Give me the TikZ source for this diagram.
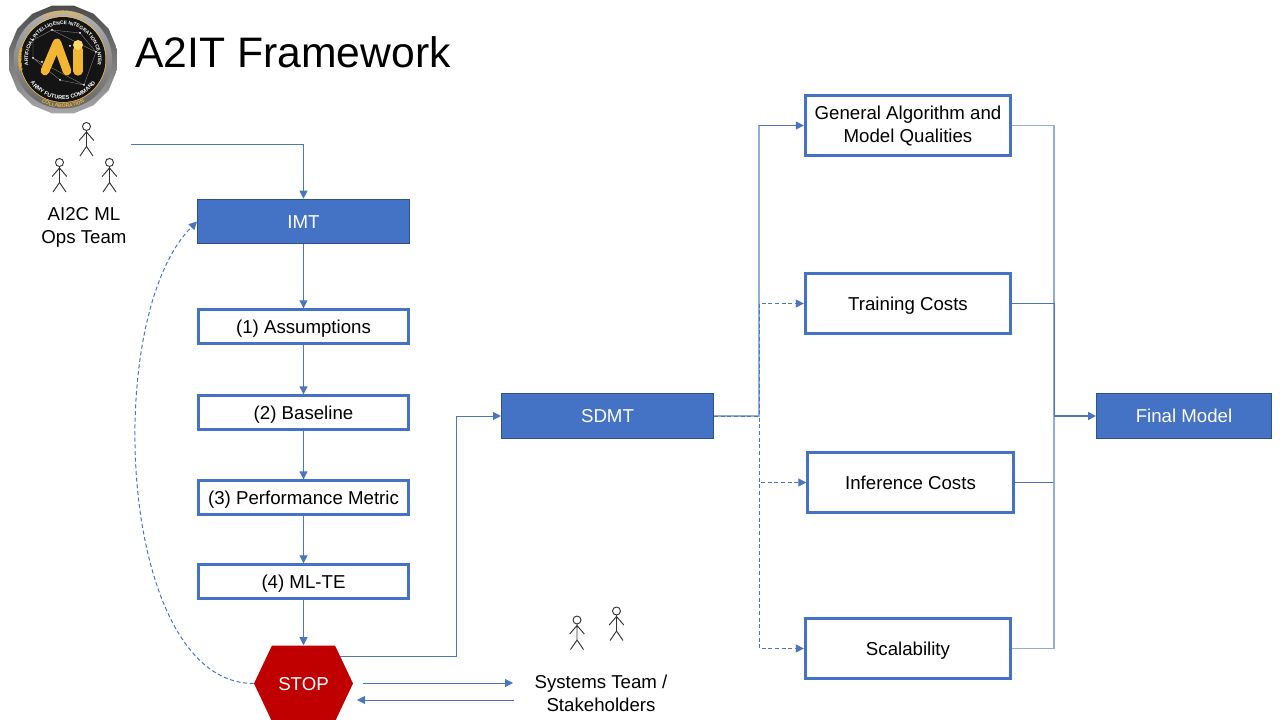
\documentclass[tikz,border=0pt]{standalone}
\usepackage{fontspec}
\setmainfont{Liberation Sans}
\usetikzlibrary{arrows.meta,decorations.text,calc}
\definecolor{boxblue}{HTML}{4472C4}
\definecolor{boxedge}{HTML}{2F528F}
\definecolor{stopred}{HTML}{C00000}
\definecolor{linkblue}{HTML}{4A76BE}
\definecolor{gold}{HTML}{F2B632}
\definecolor{palegold}{HTML}{FFD766}
\tikzset{
  stickman/.pic = {
    \draw[black!80, line width=0.7pt] (0,0) circle (4);
    \draw[black!80, line width=0.7pt] (0,4) -- (0,20) (-7.3,14) -- (0,5.5) -- (7.3,14) (-6.5,29.5) -- (0,20) -- (6.5,29.5);
  }
}
\begin{document}
\begin{tikzpicture}[x=0.75pt, y=-0.75pt, node distance={20mm}, font=\fontsize{14}{17.25}\selectfont, >={Triangle[length=6pt,width=6pt]},
    oneline/.style = {text height=10pt, text depth=0pt},
    solidbox/.style = {oneline, draw=boxedge, line width=0.75pt, fill=boxblue, text=white, minimum width=159pt, minimum height=33.5pt},
    stepbox/.style = {oneline, draw=boxblue, line width=2.25pt, minimum width=158pt, minimum height=25pt},
    costbox/.style = {draw=boxblue, line width=2.25pt, minimum width=154pt, minimum height=45pt, align=center},
    stopsign/.style = {oneline, text=white, minimum width=74.25pt, minimum height=57pt, inner sep=0pt,
      path picture={\fill[stopred] (path picture bounding box.west) -- ([xshift=13.5pt]path picture bounding box.north west) -- ([xshift=-13.5pt]path picture bounding box.north east) -- (path picture bounding box.east) -- ([xshift=-13.5pt]path picture bounding box.south east) -- ([xshift=13.5pt]path picture bounding box.south west) -- cycle;}},
    link/.style = {draw=linkblue, line width=0.75pt},
    dashlink/.style = {link, dash pattern=on 3pt off 2pt},
    lightlink/.style = {draw=linkblue!60, line width=1pt},
    label/.style = {align=center},
    ringtext/.style = {postaction={decorate, decoration={text along path, text align=center, text={#1}}}}]
    \clip (0,0) rectangle (1280,720);
    % logo
    \shade[top color=black!70, bottom color=black!35] (63,59.5) +(11.25:55) \foreach \a in {33.75,56.25,...,348.75} { -- +(\a:55) } -- cycle;
    \shade[top color=black!30, bottom color=black!60] (63,59.5) circle (49);
    \fill[black!92] (63,59.5) circle (42.5);
    \draw[gold, line width=0.4pt] (63,59.5) circle (43);
    \draw[black!45, line width=0.25pt] (33,40) -- (52,30) -- (80,33) -- (96,52) -- (84,85) -- (60,80) -- (33,58) -- (33,40) (52,30) -- (96,52) (33,58) -- (84,85);
    \foreach \px/\py in {33/40,52/30,80/33,96/52,84/85,60/80,33/58,70/46,42/62}
      \fill[white] (\px,\py) circle (1);
    \draw[gold, line width=6.5pt, line cap=round, line join=round] (45,71) -- (57,43) -- (67,71);
    \draw[gold, line width=7pt, line cap=round] (78,50) -- (78,71);
    \fill[palegold] (78,45) circle (5);
    \path[ringtext={|\fontsize{3.7}{4}\bfseries\color{white}|ARTIFICIAL INTELLIGENCE INTEGRATION CENTER}] (63,59.5) ++(168:35) arc[start angle=168, end angle=372, radius=35];
    \path[ringtext={|\fontsize{4.2}{5}\bfseries\color{white}|ARMY FUTURES COMMAND}] (63,59.5) ++(152:40) arc[start angle=152, end angle=28, radius=40];
    \path[ringtext={|\fontsize{3.8}{4}\bfseries\color{gold}|CONVERGENCE}] (63,59.5) ++(235:44.5) arc[start angle=235, end angle=305, radius=44.5];
    \path[ringtext={|\fontsize{3.8}{4}\bfseries\color{gold}|COLLABORATION}] (63,59.5) ++(125:48) arc[start angle=125, end angle=55, radius=48];
    \path[ringtext={|\fontsize{3.2}{4}\bfseries\color{gold}|JOINTNESS}] (63,59.5) ++(197:44.5) arc[start angle=197, end angle=163, radius=44.5];
    \path[ringtext={|\fontsize{3.2}{4}\bfseries\color{gold}|MISSION}] (63,59.5) ++(345:44.5) arc[start angle=345, end angle=15, radius=44.5];
    % title
    \node (title) at (293,52) {\fontsize{32}{38}\selectfont A2IT Framework};
    % main column
    \node[solidbox] (imt) at (303.5,221.5) {IMT};
    \node[stepbox] (assume) [below of=imt, node distance=78.75pt] {(1) Assumptions};
    \node[stepbox] (base) [below of=assume, node distance=64.5pt] {(2) Baseline};
    \node[stepbox] (perf) [below of=base, node distance=63.75pt] {(3) Performance Metric};
    \node[stepbox] (mlte) [below of=perf, node distance=63pt] {(4) ML-TE};
    \node[stopsign] (stop) [below of=mlte, node distance=76.5pt] {STOP};
    \node[solidbox] (sdmt) at (607.5,416) {SDMT};
    % right column
    \node[costbox, text height=25.75pt, text depth=0pt] (general) at (908,125.5) {General Algorithm and\\Model Qualities};
    \node[costbox, oneline] (train) at (908,303.5) {Training Costs};
    \node[costbox, oneline] (infer) at (910.5,482.5) {Inference Costs};
    \node[costbox, oneline] (scale) at (908,648.5) {Scalability};
    \node[solidbox, minimum width=131.25pt] (final) at (1184,416) {Final Model};
    % teams
    \pic at (86.5,126.5) {stickman};
    \pic at (59.5,162.5) {stickman};
    \pic at (109.5,162.5) {stickman};
    \pic at (577,620) {stickman};
    \pic at (616.5,611) {stickman};
    \node[label] (opsteam) at (84,227) {AI2C ML\\Ops Team};
    \node[label] (systeam) at (601,693) {Systems Team /\\Stakeholders};
    % connectors
    \coordinate (opsout) at (131,145);
    \coordinate (stopout) at (363,683);
    \coordinate (sysout) at (513,683);
    \coordinate (sysback) at (514,700);
    \coordinate (stopback) at (357,700);
    \coordinate (stopne) at (340,656);
    \coordinate (stopup) at (456,416);
    \coordinate (split) at (759,416);
    \coordinate (merge) at (1054,416);
    \draw[link,->] (opsout) -| (imt);
    \draw[link,->] (imt) -- (assume);
    \draw[link,->] (assume) -- (base);
    \draw[link,->] (base) -- (perf);
    \draw[link,->] (perf) -- (mlte);
    \draw[link,->] (mlte) -- (stop);
    \draw[link,->] (stopout) -- (sysout);
    \draw[link,->] (sysback) -- (stopback);
    \draw[link,->] (stopne) -| (stopup) -- (sdmt.west);
    \draw[dashlink,->] (stop.west) to [out=180,in=225,looseness=0.75] (imt.west);
    \draw[lightlink] (sdmt.east) -- (split) -- (split |- general);
    \draw[link,->] (split |- general) -- (general);
    \draw[dashlink,->] (sdmt.east) -- (split) |- (train);
    \draw[dashlink,->] (sdmt.east) -- (split) |- (infer);
    \draw[dashlink,->] (sdmt.east) -- (split) |- (scale);
    \draw[lightlink] (general) -| (merge);
    \draw[link] (train) -| (merge);
    \draw[link] (infer) -| (merge);
    \draw[lightlink] (scale) -| (merge);
    \draw[link,line width=1.25pt,->] (merge) -- (final);
\end{tikzpicture}
\end{document}
